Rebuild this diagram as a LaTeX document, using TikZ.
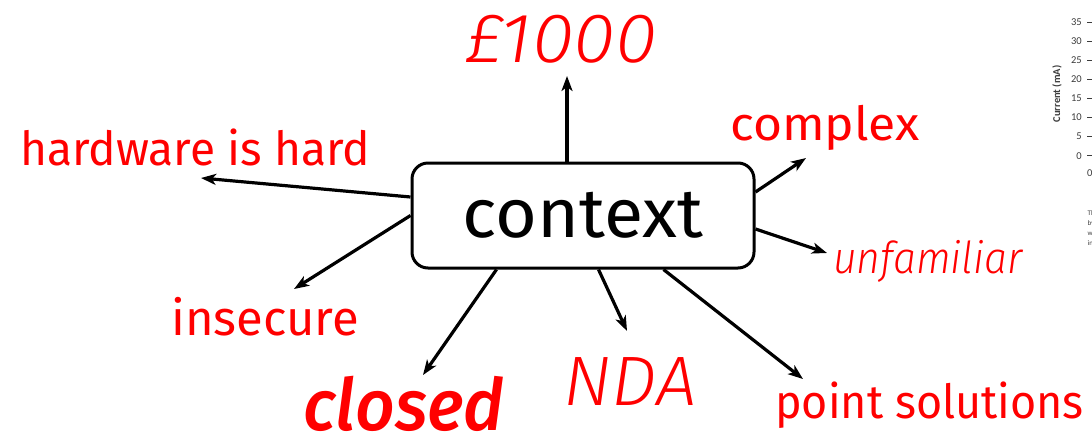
\documentclass[tikz,border=0pt]{standalone}
\usepackage{fontspec}
\usepackage{graphicx}
\setmainfont{Fira Sans}
\newfontfamily\lightfont{Fira Sans Light}
\newfontfamily\medfont{Fira Sans Medium}
\newfontfamily\chartfont{Carlito}
\usetikzlibrary{arrows.meta,calc}
\definecolor{lblred}{RGB}{255,0,0}
\definecolor{chartgray}{RGB}{60,60,60}
\begin{document}
\begin{tikzpicture}[x=1pt,y=-1pt,
  arr/.style={draw=black,line width=3.2pt,-{Stealth[length=15pt,width=11pt,inset=4pt]}},
  lbl/.style={text=lblred,inner sep=0pt,anchor=base west,font=\fontsize{47}{50}\selectfont},
  ctxbox/.style={draw=black,line width=3pt,rounded corners=16pt,minimum width=342pt,minimum height=105pt,inner sep=0pt,font=\fontsize{69}{70}\selectfont},
  tick/.style={inner sep=0pt,anchor=east,font=\chartfont\fontsize{10.5}{11}\selectfont,text=chartgray}
]
\useasboundingbox (0,0) rectangle (1092,437);
\clip (0,0) rectangle (1092,437);
\node[ctxbox] (ctx) at (583,215.5) {\scalebox{1.04}[1]{context}};

% free ends
\coordinate (tUp) at (567,76);
\coordinate (tHw) at (201,178);
\coordinate (tIns) at (294,289);
\coordinate (tClo) at (423,375);
\coordinate (tNda) at (627,331);
\coordinate (tPt) at (803,379);
\coordinate (tUnf) at (827,253);
\coordinate (tCpx) at (806,158);

% labels
\node[lbl,font=\lightfont\itshape\fontsize{70}{72}\selectfont] (money) at (465,62) {\scalebox{1.09}[1]{£1000}};
\node[lbl] (hw) at (20,165) {\scalebox{0.98}[1]{hardware is hard}};
\node[lbl] (cpx) at (730,140) {\scalebox{1.06}[1]{complex}};
\node[lbl,font=\lightfont\itshape\fontsize{44}{46}\selectfont] (unf) at (833,273) {\scalebox{0.93}[1]{unfamiliar}};
\node[lbl,font=\fontsize{49}{50}\selectfont] (ins) at (171,335) {insecure};
\node[lbl,text depth=0pt,font=\medfont\itshape\fontsize{72}{74}\selectfont] (clo) at (303,430) {\scalebox{0.96}[1]{closed}};
\node[lbl,font=\lightfont\itshape\fontsize{70}{72}\selectfont] (nda) at (563,405) {\scalebox{1.03}[1]{NDA}};
\node[lbl] (pt) at (775,418) {\scalebox{0.955}[1]{point solutions}};

% arrows
\draw[arr] ([xshift=-16pt]ctx.north) -- (tUp);
\draw[arr] ([yshift=18.5pt]ctx.west) -- (tHw);
\draw[arr] ([yshift=0pt]ctx.west) -- (tIns);
\draw[arr] ([xshift=86pt]ctx.south west) -- (tClo);
\draw[arr] ([xshift=188pt]ctx.south west) -- (tNda);
\draw[arr] ([xshift=253pt]ctx.south west) -- (tPt);
\draw[arr] ([yshift=-13.5pt]ctx.east) -- (tUnf);
\draw[arr] ([yshift=23.5pt]ctx.east) -- (tCpx);

% partial chart at right edge
\foreach \v [count=\i from 0] in {35,30,25,20,15,10,5,0} {
  \node[tick] (tk\v) at (1082,22+19.1*\i) {\v};
  \draw[chartgray,line width=0.5pt] (1087,22+19.1*\i) -- (1092,22+19.1*\i);
}
\node[inner sep=0pt,rotate=90,font=\chartfont\bfseries\fontsize{10.5}{11}\selectfont,text=chartgray] (ylab) at (1057,94) {Current (mA)};
\node[inner sep=0pt,anchor=west,font=\chartfont\fontsize{10.5}{11}\selectfont,text=chartgray] (x0) at (1087,173) {0};
\node[inner sep=0pt,anchor=north west,align=left,font=\chartfont\fontsize{7}{10}\selectfont,text=chartgray] (cap) at (1087.5,210) {The\\by\\wi\\in};
\end{tikzpicture}
\end{document}
